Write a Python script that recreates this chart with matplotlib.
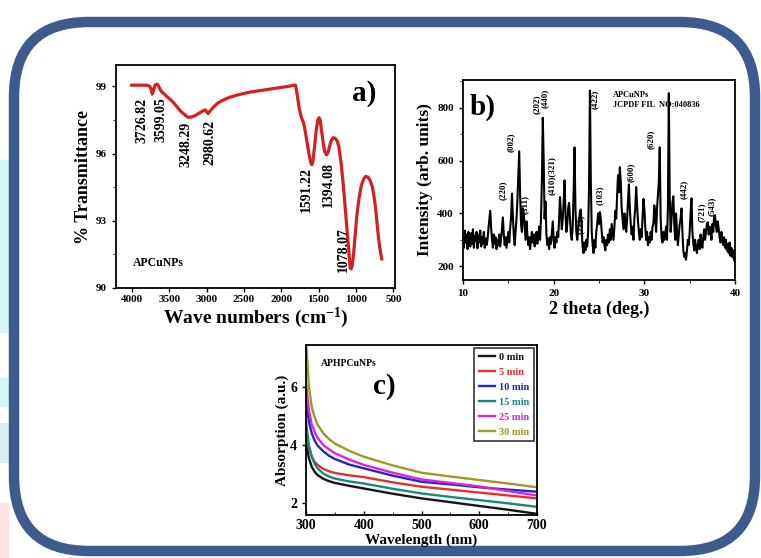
import numpy as np
import matplotlib
matplotlib.use('Agg')
import matplotlib.pyplot as plt
from matplotlib.patches import FancyBboxPatch, Rectangle
from matplotlib.ticker import MultipleLocator

plt.rcParams['font.family'] = ['Liberation Serif', 'DejaVu Serif']
plt.rcParams['font.weight'] = 'bold'
plt.rcParams['axes.labelweight'] = 'bold'
plt.rcParams['mathtext.fontset'] = 'custom'
plt.rcParams['mathtext.rm'] = 'Liberation Serif:bold'
plt.rcParams['mathtext.it'] = 'Liberation Serif:bold'
plt.rcParams['mathtext.bf'] = 'Liberation Serif:bold'

# ---- a) FTIR spectrum ----
ftir_wn = [4000, 3900, 3800, 3760, 3740, 3726, 3712, 3690, 3660, 3640,
           3620, 3600, 3580, 3550, 3500, 3450, 3400, 3350, 3300, 3250,
           3200, 3150, 3100, 3050, 3020, 2995, 2980, 2965, 2940, 2900,
           2850, 2800, 2700, 2600, 2500, 2400, 2300, 2200, 2100, 2000,
           1900, 1830, 1810, 1790, 1760, 1730, 1700, 1680, 1650, 1620,
           1600, 1590, 1575, 1555, 1530, 1510, 1495, 1480, 1460, 1440,
           1420, 1400, 1390, 1370, 1340, 1310, 1290, 1270, 1250, 1230,
           1200, 1170, 1140, 1110, 1090, 1078, 1065, 1050, 1030, 1010,
           990, 960, 930, 900, 870, 840, 810, 780, 750, 730,
           710, 690, 670, 655]
ftir_t = [99.05, 99.05, 99.05, 99.0, 98.85, 98.65, 98.8, 99.05, 99.1, 99.0,
          98.85, 98.75, 98.7, 98.6, 98.45, 98.3, 98.1, 97.9, 97.75, 97.62,
          97.63, 97.7, 97.8, 97.9, 97.95, 97.85, 97.78, 97.85, 97.95, 98.1,
          98.25, 98.35, 98.5, 98.6, 98.68, 98.75, 98.8, 98.85, 98.9, 98.95,
          99.0, 99.05, 99.05, 98.7, 98.0, 97.6, 97.35, 97.0, 96.4, 95.8,
          95.55, 95.5, 95.7, 96.3, 97.1, 97.5, 97.6, 97.5, 97.0, 96.5,
          96.1, 95.95, 95.95, 96.1, 96.5, 96.7, 96.7, 96.65, 96.55, 96.3,
          95.6, 94.6, 93.4, 92.2, 91.4, 90.9, 90.85, 91.0, 91.6, 92.4,
          93.2, 94.0, 94.55, 94.85, 94.98, 94.95, 94.8, 94.5, 93.9, 93.3,
          92.6, 92.0, 91.55, 91.3]
ftir_labels = ['3726.82', '3599.05', '3248.29', '2980.62', '1591.22', '1394.08', '1078.07']
ftir_label_x = [3867, 3615, 3270, 2952, 1666, 1374, 1162]
ftir_label_top = [98.5, 98.5, 97.4, 97.5, 95.4, 95.6, 92.7]

# ---- b) XRD pattern (0.1 deg steps from 10 to 40) ----
xrd_intensity = [
    310, 270, 335, 290, 320, 265, 330, 300, 275, 325,
    285, 340, 270, 315, 295, 330, 268, 320, 290, 335,
    275, 310, 285, 330, 270, 305, 280, 300, 340, 375,
    410, 345, 300, 270, 320, 285, 310, 265, 300, 280,
    320, 275, 305, 340, 385, 320, 280, 310, 270, 300,
    330, 290, 345, 380, 475, 390, 320, 280, 330, 380,
    450, 540, 635, 470, 360, 330, 420, 400, 350, 300,
    370, 320, 280, 310, 265, 300, 330, 290, 320, 275,
    300, 330, 285, 320, 350, 300, 380, 520, 762, 600,
    380, 445, 320, 280, 305, 265, 310, 285, 330, 370,
    300, 270, 310, 290, 330, 310, 380, 462, 400, 340,
    380, 440, 525, 400, 330, 360, 420, 440, 380, 320,
    300, 350, 480, 650, 420, 330, 300, 340, 370, 410,
    415, 330, 270, 250, 290, 260, 300, 275, 330, 500,
    865, 520, 330, 280, 250, 300, 270, 330, 360, 400,
    360, 405, 380, 330, 290, 310, 280, 260, 300, 280,
    320, 290, 340, 300, 360, 330, 300, 350, 410, 380,
    470, 545, 480, 575, 520, 420, 380, 340, 400, 360,
    330, 380, 450, 510, 420, 360, 320, 350, 300, 380,
    420, 500, 430, 370, 330, 300, 340, 310, 380, 455,
    420, 350, 300, 330, 280, 310, 290, 330, 300, 350,
    360, 430, 390, 330, 420, 470, 520, 650, 380, 310,
    290, 330, 300, 320, 350, 300, 420, 855, 470, 330,
    380, 440, 465, 360, 300, 400, 330, 280, 320, 360,
    380, 419, 330, 260, 235, 250, 225, 260, 300, 280,
    330, 400, 457, 330, 290, 260, 300, 270, 250, 280,
    300, 265, 320, 290, 270, 310, 340, 300, 330, 360,
    367, 320, 350, 340, 300, 360, 330, 390, 392, 350,
    330, 370, 343, 310, 290, 330, 300, 280, 310, 270,
    300, 260, 285, 250, 290, 240, 270, 235, 260, 225,
    216]
xrd_2theta = np.round(np.linspace(10, 40, len(xrd_intensity)), 1)
xrd_hkl = ['(220)', '(002)', '(311)', '(202)', '(440)', '(410)(321)', '(222)',
           '(422)', '(103)', '(600)', '(620)', '(442)', '(721)', '(543)']
xrd_hkl_x = [14.4, 15.3, 16.8, 18.1, 19.0, 19.85, 23.0, 24.5, 25.1, 28.5, 30.7, 34.3, 36.3, 37.4]
xrd_hkl_y = [488, 668, 435, 815, 835, 545, 360, 831, 467, 555, 680, 492, 404, 426]

# ---- c) UV-vis absorption ----
uv_wavelength = [300, 305, 310, 315, 320, 330, 340, 350, 375, 400, 450, 500, 550, 600, 650, 700]
uv_series = {
    '0 min':  [4.10, 3.55, 3.25, 3.08, 2.97, 2.84, 2.76, 2.70, 2.60, 2.51, 2.33, 2.17, 2.04, 1.91, 1.78, 1.64],
    '5 min':  [4.40, 3.90, 3.60, 3.42, 3.32, 3.18, 3.10, 3.04, 2.96, 2.90, 2.72, 2.57, 2.47, 2.37, 2.27, 2.17],
    '10 min': [5.60, 4.80, 4.40, 4.15, 3.98, 3.78, 3.63, 3.52, 3.33, 3.20, 2.95, 2.74, 2.65, 2.55, 2.47, 2.40],
    '15 min': [4.80, 4.00, 3.60, 3.35, 3.20, 3.02, 2.92, 2.85, 2.75, 2.68, 2.50, 2.34, 2.22, 2.11, 2.00, 1.88],
    '25 min': [6.10, 5.20, 4.70, 4.45, 4.25, 4.00, 3.85, 3.72, 3.50, 3.32, 3.05, 2.82, 2.70, 2.58, 2.42, 2.27],
    '30 min': [7.60, 6.00, 5.30, 4.95, 4.70, 4.40, 4.20, 4.05, 3.80, 3.60, 3.30, 3.05, 2.92, 2.80, 2.68, 2.55],
}
uv_colors = ['#151515', '#e2302e', '#2424c8', '#17897a', '#e021e0', '#9c9a22']

W, H = 761, 558
fig = plt.figure(figsize=(W / 100, H / 100), dpi=100)

# background with rounded frame
bg = fig.add_axes([0, 0, 1, 1])
bg.set_xlim(0, W)
bg.set_ylim(H, 0)
bg.axis('off')
for (y0, y1, c) in [(160, 333, '#d2f6fb'), (378, 407, '#d2f6fb'),
                    (423, 463, '#d9ecf7'), (503, 558, '#fde2e4')]:
    bg.add_patch(Rectangle((0, y0), 9, y1 - y0, color=c, lw=0))
bg.add_patch(FancyBboxPatch((14, 22), 741, 529, boxstyle='round,pad=0,rounding_size=75',
                            facecolor='white', edgecolor='#3d5b8c', lw=7.5))


def px_axes(left, top, right, bottom):
    return fig.add_axes([left / W, 1 - bottom / H, (right - left) / W, (bottom - top) / H])


# a) FTIR
ax1 = px_axes(116, 65, 395, 288)
ax1.plot(ftir_wn, ftir_t, color='#d42020', lw=2.3)
ax1.set_xlim(4212, 478)
ax1.set_ylim(90, 99.95)
ax1.set_xticks([4000, 3500, 3000, 2500, 2000, 1500, 1000, 500])
ax1.set_yticks([90, 93, 96, 99])
ax1.yaxis.set_minor_locator(MultipleLocator(1.5))
ax1.tick_params(labelsize=8, length=3, width=1)
ax1.tick_params(axis='x', pad=2)
ax1.set_xlabel(r'Wave numbers (cm$^{-1}$)', fontsize=14, labelpad=1)
ax1.set_ylabel('% Transmittance', fontsize=13, labelpad=3)
for lab, x, y in zip(ftir_labels, ftir_label_x, ftir_label_top):
    ax1.text(x, y, lab, rotation=90, ha='center', va='top', fontsize=10)
ax1.text(3990, 91.1, 'APCuNPs', fontsize=8.5, ha='left', va='center')
ax1.text(897, 98.7, 'a)', fontsize=21, ha='center', va='center')

# b) XRD
ax2 = px_axes(463, 80, 735, 280)
ax2.plot(xrd_2theta, xrd_intensity, color='black', lw=1.5)
ax2.set_xlim(10, 40)
ax2.set_ylim(148, 905)
ax2.set_xticks([10, 20, 30, 40])
ax2.xaxis.set_minor_locator(MultipleLocator(5))
ax2.set_yticks([200, 400, 600, 800])
ax2.yaxis.set_minor_locator(MultipleLocator(100))
ax2.tick_params(labelsize=8, length=3, width=1)
ax2.tick_params(which='minor', length=2)
ax2.set_xlabel('2 theta (deg.)', fontsize=13, labelpad=2)
ax2.set_ylabel('Intensity (arb. units)', fontsize=12.5, labelpad=3)
for lab, x, y in zip(xrd_hkl, xrd_hkl_x, xrd_hkl_y):
    ax2.text(x, y, lab, rotation=90, ha='center', va='center', fontsize=6.5)
ax2.text(12.2, 800, 'b)', fontsize=21, ha='center', va='center')
ax2.text(26.5, 850, 'APCuNPs', fontsize=6, ha='left', va='center')
ax2.text(26.5, 810, 'JCPDF FIL  NO:040836', fontsize=6, ha='left', va='center')

# c) UV-vis
ax3 = px_axes(306, 345, 537, 515)
for (name, vals), col in zip(uv_series.items(), uv_colors):
    ax3.plot(uv_wavelength, vals, color=col, lw=1.7, label=name)
ax3.set_xlim(300, 700)
ax3.set_ylim(1.6, 7.43)
ax3.set_xticks([300, 400, 500, 600, 700])
ax3.xaxis.set_minor_locator(MultipleLocator(50))
ax3.set_yticks([2, 4, 6])
ax3.tick_params(labelsize=10, length=3, width=1)
ax3.tick_params(axis='x', direction='in', pad=3)
ax3.tick_params(which='minor', direction='in', length=2)
ax3.set_xlabel('Wavelength (nm)', fontsize=11, labelpad=1)
ax3.set_ylabel('Absorption (a.u.)', fontsize=11, labelpad=1)
ax3.text(325, 6.8, 'APHPCuNPs', fontsize=7, ha='left', va='center')
ax3.text(435, 6.0, 'c)', fontsize=21, ha='center', va='center')
leg = ax3.legend(loc='upper right', fontsize=7.5, labelcolor='linecolor', frameon=True,
                 fancybox=False, edgecolor='black', handlelength=1.6, labelspacing=0.55,
                 borderpad=0.4, handletextpad=0.4, borderaxespad=0.3)
leg.get_frame().set_linewidth(1.2)

for ax in (ax1, ax2, ax3):
    for s in ax.spines.values():
        s.set_linewidth(1.3)

fig.savefig('out.png', dpi=100)
